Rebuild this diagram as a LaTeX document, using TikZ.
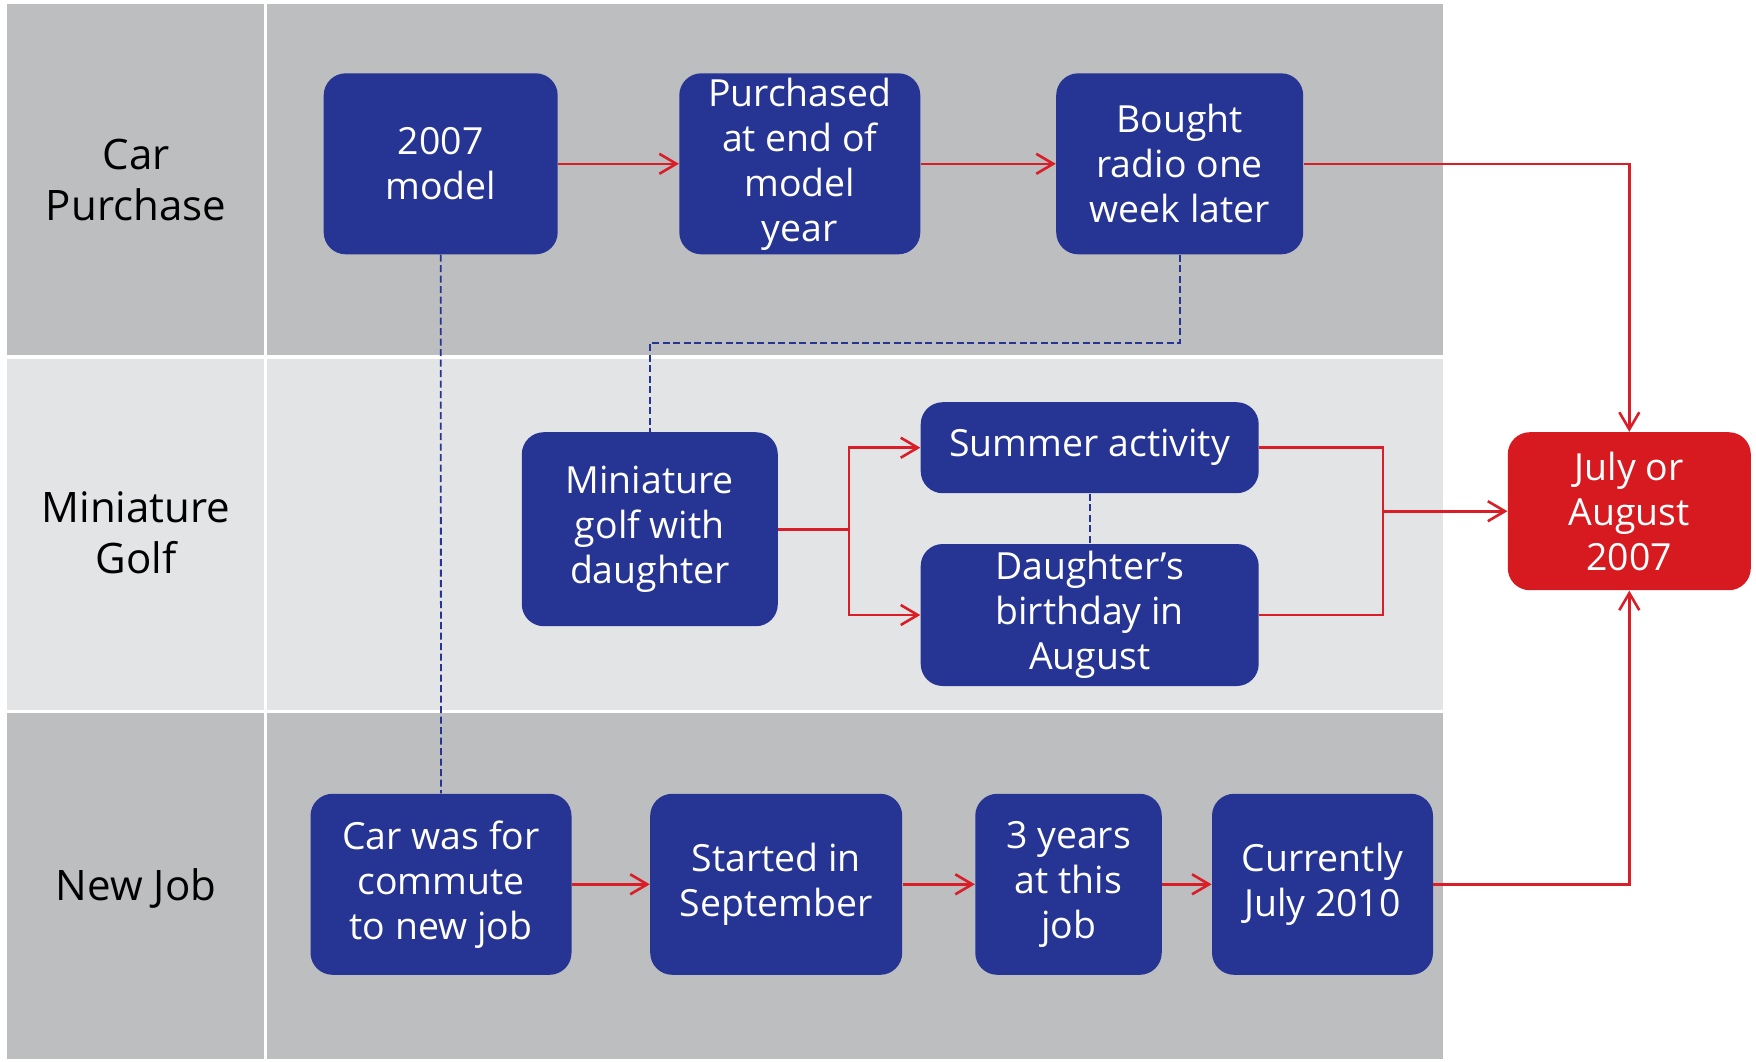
\documentclass[tikz,border=0pt]{standalone}
\usepackage{fontspec}
\setmainfont{Open Sans}
\usetikzlibrary{arrows.meta}
\definecolor{boxblue}{HTML}{263593}
\definecolor{boxred}{HTML}{D71A1F}
\definecolor{linered}{HTML}{DA1E28}
\definecolor{lanedark}{HTML}{BDBEC0}
\definecolor{lanelight}{HTML}{E3E4E6}
\tikzset{
  box/.style={fill=boxblue, rounded corners=11pt, text=white, align=center,
    font=\fontsize{18.7pt}{22.5pt}\selectfont, inner sep=0pt},
  redbox/.style={box, fill=boxred},
  lanelabel/.style={align=center, text=black, font=\fontsize{21pt}{25.3pt}\selectfont},
  redline/.style={draw=linered, line width=1.3pt},
  redarrow/.style={redline, -{Straight Barb[length=8.5pt,width=10pt]}},
  dashline/.style={draw=boxblue, line width=0.9pt, dash pattern=on 3.5pt off 1.75pt},
}
\begin{document}
\begin{tikzpicture}[x=0.5pt,y=-0.5pt]
\useasboundingbox (0,0) rectangle (1756,1061);
% lanes
\fill[lanedark] (6.9,4) rectangle (1442.6,355);
\fill[lanelight] (6.9,358.5) rectangle (1442.6,710);
\fill[lanedark] (6.9,712.7) rectangle (1442.6,1059);
\fill[white] (264.4,4) rectangle (266.7,1059);
% lane labels
\node[lanelabel] (l1) at (136,180) {Car\\Purchase};
\node[lanelabel] (l2) at (136,533) {Miniature\\Golf};
\node[lanelabel] (l3) at (136,888) {New Job};
% boxes
\node[box, minimum width=117pt, minimum height=90.5pt] (a) at (440.7,163.8) {2007\\model};
\node[box, minimum width=120.5pt, minimum height=90.5pt] (b) at (799.8,163.8) {Purchased\\at end of\\model\\year};
\node[box, minimum width=123.5pt, minimum height=90.5pt] (c) at (1179.7,163.8) {Bought\\radio one\\week later};
\node[box, minimum width=128pt, minimum height=97pt] (d) at (649.8,529.2) {Miniature\\golf with\\daughter};
\node[box, minimum width=169pt, minimum height=45.5pt] (e) at (1089.7,447.7) {Summer activity};
\node[box, minimum width=169pt, minimum height=71pt] (f) at (1089.7,615) {Daughter’s\\birthday in\\August};
\node[redbox, minimum width=121.5pt, minimum height=79pt] (g) at (1629.3,511.2) {July or\\August\\2007};
\node[box, minimum width=130.5pt, minimum height=90.5pt] (h) at (441,884.3) {Car was for\\commute\\to new job};
\node[box, minimum width=126pt, minimum height=90.5pt] (i) at (776.2,884.3) {Started in\\September};
\node[box, minimum width=93.25pt, minimum height=90.5pt] (j) at (1068.5,884.3) {3 years\\at this\\job};
\node[box, minimum width=110.5pt, minimum height=90.5pt] (k) at (1322.5,884.3) {Currently\\July 2010};
% coordinates
\coordinate (br) at (849,529.2);
\coordinate (mg) at (1383,511.2);
% red connectors
\draw[redarrow] (a.east) -- (b.west);
\draw[redarrow] (b.east) -- (c.west);
\draw[redarrow] (c.east) -| (g.north);
\draw[redline] (d.east) -- (br);
\draw[redarrow] (br) |- (e.west);
\draw[redarrow] (br) |- (f.west);
\draw[redline] (e.east) -| (mg);
\draw[redline] (f.east) -| (mg);
\draw[redarrow] (mg) -- (g.west);
\draw[redarrow] (h.east) -- (i.west);
\draw[redarrow] (i.east) -- (j.west);
\draw[redarrow] (j.east) -- (k.west);
\draw[redarrow] (k.east) -| (g.south);
% dashed connectors
\draw[dashline] (a.south) -- (h.north);
\draw[dashline] (c.south) -- ++(0,88.4) -| (d.north);
\draw[dashline] (e.south) -- (f.north);
\end{tikzpicture}
\end{document}
